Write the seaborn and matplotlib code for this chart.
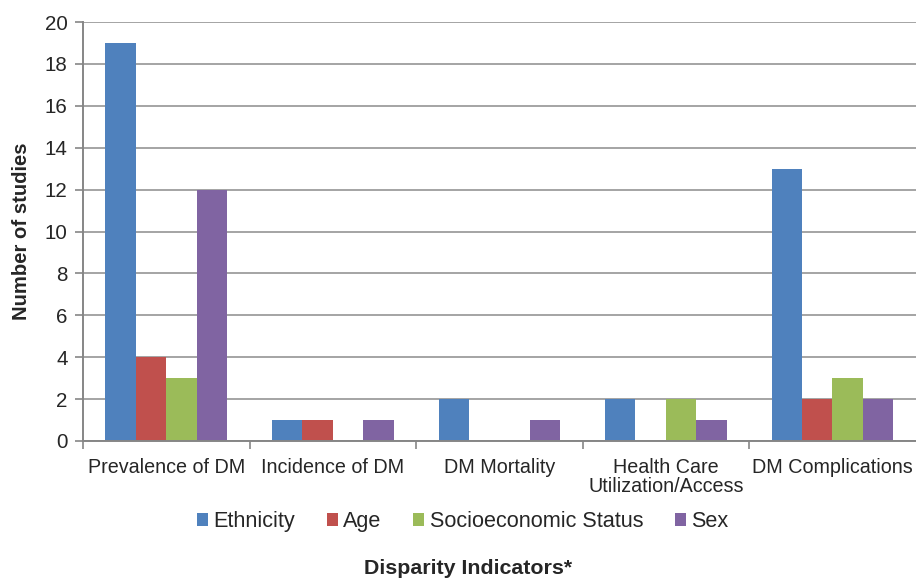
import matplotlib
matplotlib.use("Agg")
import matplotlib.pyplot as plt
import seaborn as sns
import pandas as pd
from matplotlib.patches import Patch

categories = ["Prevalence of DM", "Incidence of DM", "DM Mortality",
              "Health Care\nUtilization/Access", "DM Complications"]
series = ["Ethnicity", "Age", "Socioeconomic Status", "Sex"]
ethnicity = [19, 1, 2, 2, 13]
age = [4, 1, 0, 0, 2]
socioeconomic = [3, 0, 0, 2, 3]
sex = [12, 1, 1, 1, 2]
colors = ["#4F81BD", "#C0504D", "#9BBB59", "#8064A2"]

rows = []
for name, vals in zip(series, [ethnicity, age, socioeconomic, sex]):
    for cat, v in zip(categories, vals):
        rows.append({"Indicator": cat, "Group": name, "Studies": v})
df = pd.DataFrame(rows)

sns.set_theme(style="white")
plt.rcParams["font.family"] = ["Liberation Sans", "DejaVu Sans"]

fig = plt.figure(figsize=(9.16, 5.81), dpi=100)
ax = fig.add_axes([0.0906, 0.241, 0.909, 0.721])

sns.barplot(data=df, x="Indicator", y="Studies", hue="Group", order=categories,
            hue_order=series, palette=colors, width=0.73, gap=0, saturation=1,
            edgecolor="none", linewidth=0, ax=ax, legend=False)

ax.set_ylim(0, 20)
ax.set_xlim(-0.5, len(categories) - 0.5)
ax.set_yticks(range(0, 21, 2))
ax.yaxis.grid(True, color="#8C8C8C", linewidth=1.1)
ax.set_axisbelow(True)
for s in ["top", "right"]:
    ax.spines[s].set_visible(False)
for s in ["left", "bottom"]:
    ax.spines[s].set_color("#868686")
    ax.spines[s].set_linewidth(1.4)

# category labels without tick marks; tick marks at category boundaries
ax.set_xticks(range(len(categories)))
ax.set_xticklabels(categories, fontsize=14.2, linespacing=1.05)
ax.set_xticks([i - 0.5 for i in range(len(categories))], minor=True)
ax.tick_params(axis="x", which="major", length=0, pad=12)
ax.tick_params(axis="x", which="minor", length=6, width=1.2, color="#868686",
               direction="out", bottom=True)
ax.tick_params(axis="y", which="major", length=6, width=1.2, color="#868686",
               direction="out", left=True, labelsize=14.8, pad=5)

ax.set_xlabel("")
ax.set_ylabel("Number of studies", fontsize=14.6, fontweight="bold", labelpad=10)

handles = [Patch(facecolor=c, edgecolor="none", label=n) for c, n in zip(colors, series)]
fig.legend(handles=handles, loc="center", bbox_to_anchor=(0.505, 0.102), ncol=4,
           frameon=False, fontsize=15.6, handlelength=0.52, handleheight=0.52,
           handletextpad=0.25, columnspacing=1.45)

fig.text(0.511, 0.021, "Disparity Indicators*", ha="center", va="center",
         fontsize=15.4, fontweight="bold")

fig.savefig("out.png", dpi=100)
